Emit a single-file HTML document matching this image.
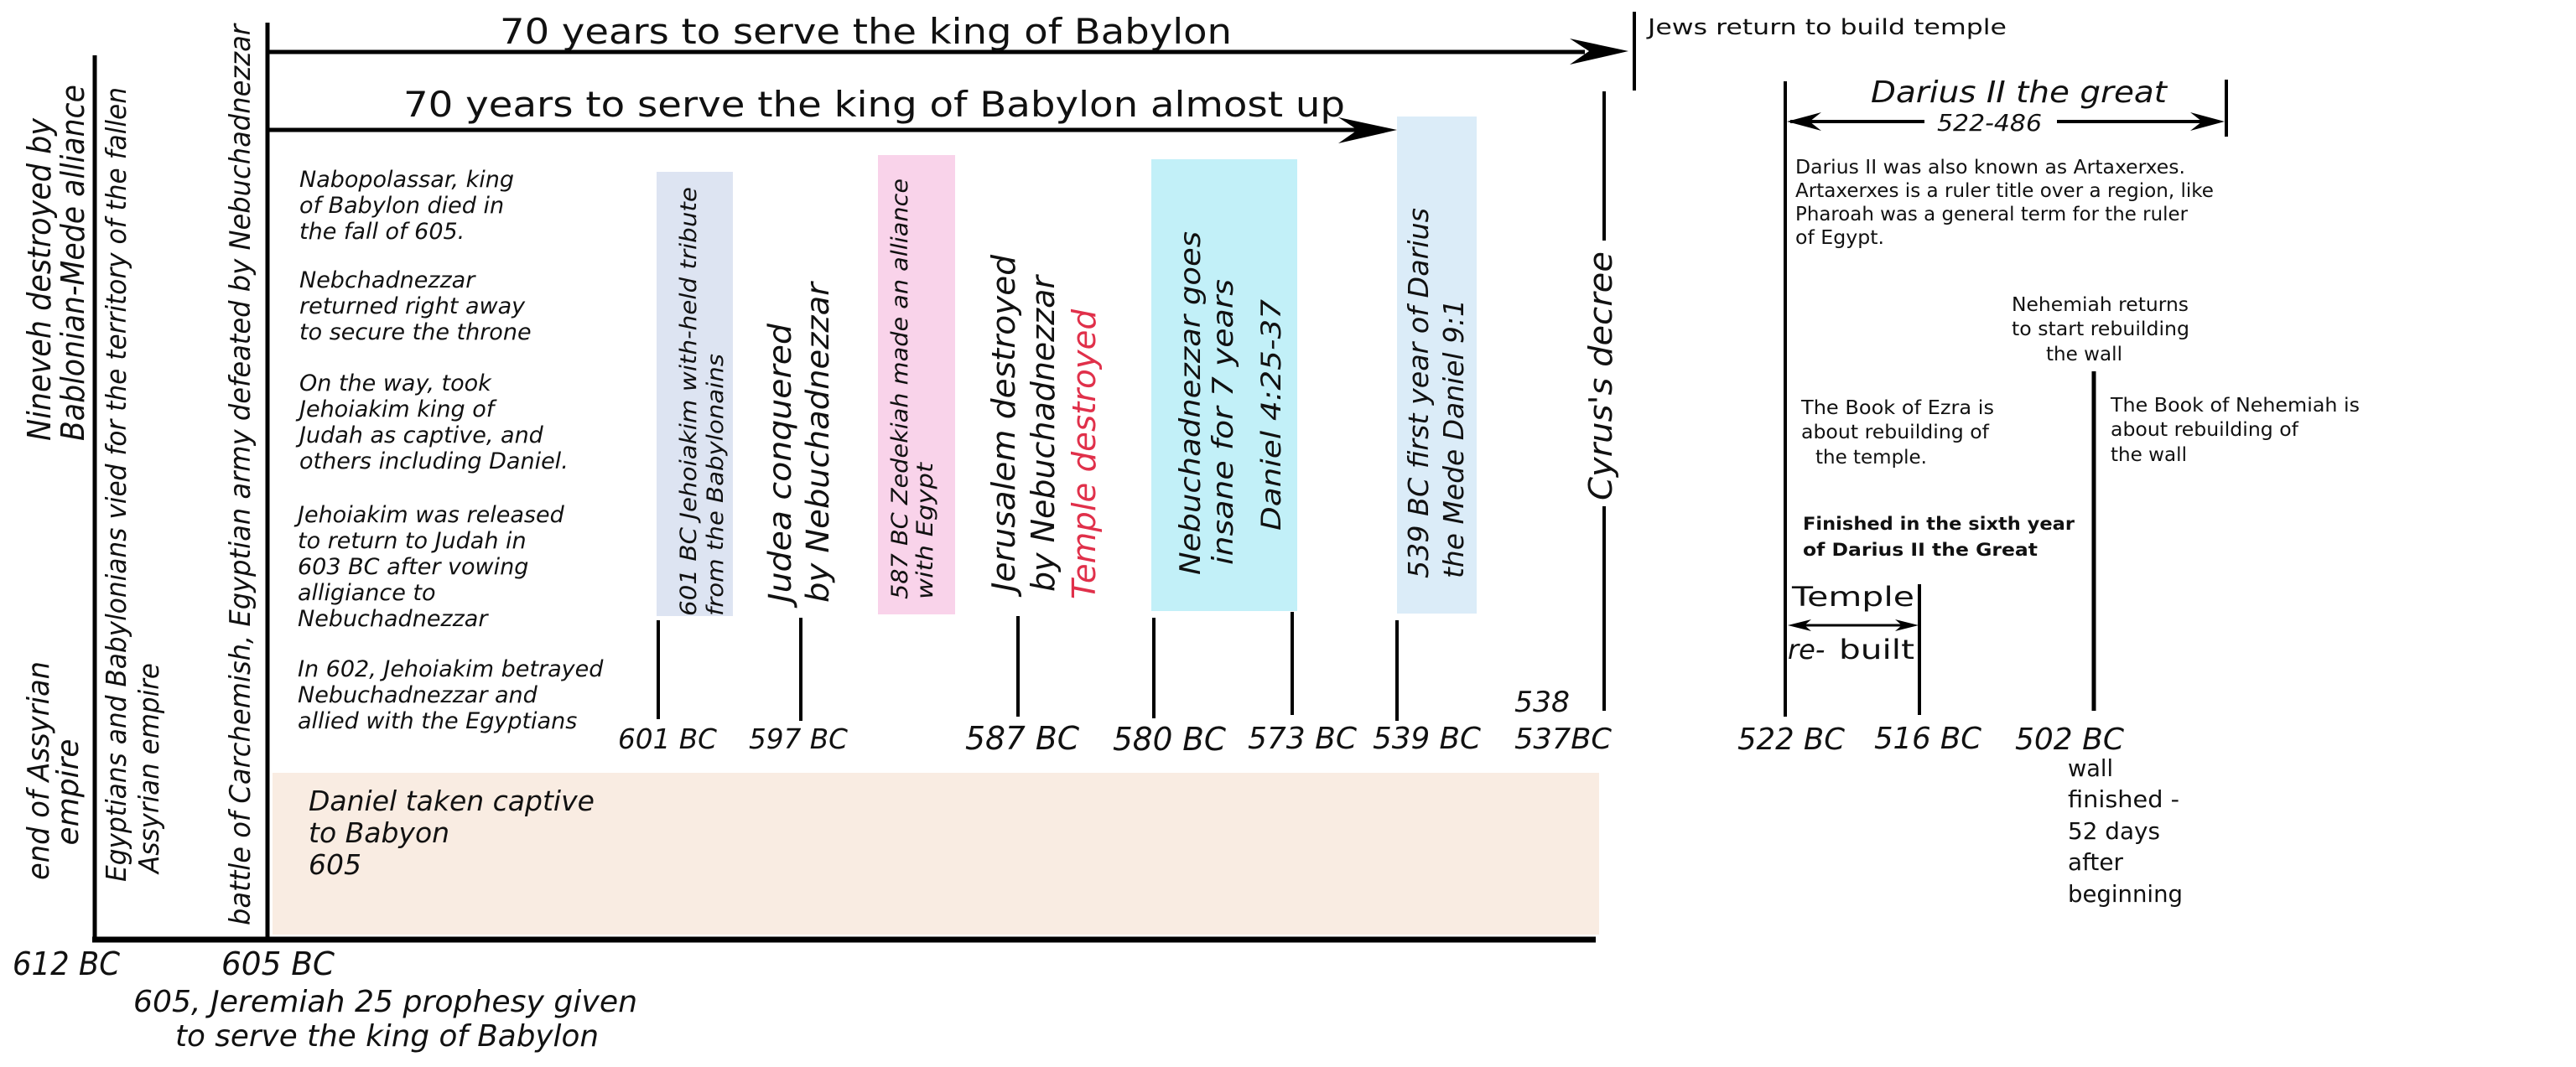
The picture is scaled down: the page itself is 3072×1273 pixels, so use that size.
<!DOCTYPE html>
<html><head><meta charset="utf-8"><style>
html,body{margin:0;padding:0;background:#fff;}
svg{display:block;}
text{font-family:"DejaVu Sans","Liberation Sans",sans-serif;fill:#111;}
.i{font-style:italic;}
.c{font-family:"DejaVu Sans Condensed","DejaVu Sans","Liberation Sans",sans-serif;font-style:italic;}
</style></head><body>
<svg width="3072" height="1273" viewBox="0 0 3072 1273" xmlns="http://www.w3.org/2000/svg">
<rect x="325" y="922" width="1582" height="193" fill="#f9ece2"/>
<rect x="783" y="205" width="91" height="530" fill="#dde4f2"/>
<rect x="1047" y="185" width="92" height="548" fill="#f9d3ea"/>
<rect x="1373" y="190" width="174" height="539" fill="#c2f0f8"/>
<rect x="1666" y="139" width="95" height="593" fill="#dbecf8"/>

<g stroke="#000" fill="none">
<line x1="113" y1="66" x2="113" y2="1120" stroke-width="5"/>
<line x1="319" y1="27" x2="319" y2="1120" stroke-width="5"/>
<line x1="110" y1="1121" x2="1903" y2="1121" stroke-width="7"/>
<line x1="319" y1="62" x2="1890" y2="62" stroke-width="5"/>
<line x1="319" y1="155" x2="1620" y2="155" stroke-width="5"/>
<line x1="1949" y1="14" x2="1949" y2="108" stroke-width="4"/>
<line x1="1913" y1="109" x2="1913" y2="287" stroke-width="4"/>
<line x1="1913" y1="604" x2="1913" y2="848" stroke-width="4"/>
<line x1="785" y1="740" x2="785" y2="858" stroke-width="4"/>
<line x1="955" y1="737" x2="955" y2="860" stroke-width="4"/>
<line x1="1214" y1="735" x2="1214" y2="855" stroke-width="4"/>
<line x1="1376" y1="737" x2="1376" y2="857" stroke-width="4"/>
<line x1="1541" y1="730" x2="1541" y2="853" stroke-width="4"/>
<line x1="1666" y1="740" x2="1666" y2="860" stroke-width="4"/>
<line x1="2129" y1="97" x2="2129" y2="855" stroke-width="4"/>
<line x1="2655" y1="95" x2="2655" y2="163" stroke-width="4"/>
<line x1="2289" y1="697" x2="2289" y2="853" stroke-width="4"/>
<line x1="2497" y1="443" x2="2497" y2="848" stroke-width="5"/>
<line x1="2135" y1="145" x2="2295" y2="145" stroke-width="4"/>
<line x1="2453" y1="145" x2="2645" y2="145" stroke-width="4"/>
<line x1="2140" y1="746" x2="2280" y2="746" stroke-width="3"/>
</g>
<g fill="#000">
<path d="M1942,61 L1872,46 L1895,61 L1872,77 Z"/>
<path d="M1666,155 L1596,140 L1619,155 L1596,171 Z"/>
<path d="M2131,145 L2172,134 L2158,145 L2172,156 Z"/>
<path d="M2653,145 L2612,134 L2626,145 L2612,156 Z"/>
<path d="M2132,746 L2160,739 L2152,746 L2160,753 Z"/>
<path d="M2288,746 L2260,739 L2268,746 L2260,753 Z"/>
</g>

<text x="596" y="52" font-size="42" textLength="873" lengthAdjust="spacingAndGlyphs">70 years to serve the king of Babylon</text>
<text x="481" y="139" font-size="42" textLength="1123" lengthAdjust="spacingAndGlyphs">70 years to serve the king of Babylon almost up</text>
<text x="1965" y="41" font-size="26" textLength="428" lengthAdjust="spacingAndGlyphs">Jews return to build temple</text>

<g class="i">
<text transform="translate(60,526) rotate(-90)" font-size="38" textLength="385" lengthAdjust="spacingAndGlyphs">Nineveh destroyed by</text>
<text transform="translate(100,526) rotate(-90)" font-size="38" textLength="425" lengthAdjust="spacingAndGlyphs">Bablonian-Mede alliance</text>
<text transform="translate(58,1050) rotate(-90)" font-size="36" textLength="261" lengthAdjust="spacingAndGlyphs">end of Assyrian</text>
<text transform="translate(93,945) rotate(-90)" font-size="36" text-anchor="middle">empire</text>
<text transform="translate(150,1052) rotate(-90)" font-size="33" textLength="948" lengthAdjust="spacingAndGlyphs">Egyptians and Babylonians vied for the territory of the fallen</text>
<text transform="translate(189,1042) rotate(-90)" font-size="33" textLength="251" lengthAdjust="spacingAndGlyphs">Assyrian empire</text>
<text transform="translate(298,1104) rotate(-90)" font-size="34" textLength="1075" lengthAdjust="spacingAndGlyphs">battle of Carchemish, Egyptian army defeated by Nebuchadnezzar</text>

<text transform="translate(830,735) rotate(-90)" font-size="27" textLength="512" lengthAdjust="spacingAndGlyphs">601 BC Jehoiakim with-held tribute</text>
<text transform="translate(862,735) rotate(-90)" font-size="27" textLength="313" lengthAdjust="spacingAndGlyphs">from the Babylonains</text>
<text transform="translate(943,719) rotate(-90)" font-size="37" textLength="333" lengthAdjust="spacingAndGlyphs">Judea conquered</text>
<text transform="translate(988,719) rotate(-90)" font-size="37" textLength="382" lengthAdjust="spacingAndGlyphs">by Nebuchadnezzar</text>
<text transform="translate(1082,715) rotate(-90)" font-size="27" textLength="502" lengthAdjust="spacingAndGlyphs">587 BC Zedekiah made an alliance</text>
<text transform="translate(1112,715) rotate(-90)" font-size="27" textLength="163" lengthAdjust="spacingAndGlyphs">with  Egypt</text>
<text transform="translate(1210,706) rotate(-90)" font-size="38" textLength="402" lengthAdjust="spacingAndGlyphs">Jerusalem destroyed</text>
<text transform="translate(1257,706) rotate(-90)" font-size="38" textLength="377" lengthAdjust="spacingAndGlyphs">by Nebuchadnezzar</text>
<text transform="translate(1306,715) rotate(-90)" font-size="38" textLength="346" lengthAdjust="spacingAndGlyphs" style="fill:#e0304a">Temple destroyed</text>
<text transform="translate(1431,686) rotate(-90)" font-size="34" textLength="410" lengthAdjust="spacingAndGlyphs">Nebuchadnezzar goes</text>
<text transform="translate(1470,674) rotate(-90)" font-size="34" textLength="341" lengthAdjust="spacingAndGlyphs">insane for 7 years</text>
<text transform="translate(1527,633) rotate(-90)" font-size="32" textLength="276" lengthAdjust="spacingAndGlyphs">Daniel 4:25-37</text>
<text transform="translate(1703,690) rotate(-90)" font-size="33" textLength="442" lengthAdjust="spacingAndGlyphs">539 BC first year of Darius</text>
<text transform="translate(1745,690) rotate(-90)" font-size="33" textLength="333" lengthAdjust="spacingAndGlyphs">the Mede Daniel 9:1</text>
<text transform="translate(1922,597) rotate(-90)" font-size="38" textLength="297" lengthAdjust="spacingAndGlyphs">Cyrus's decree</text>
</g>

<g class="c" font-size="27">
<text x="357" y="223">Nabopolassar, king</text>
<text x="357" y="254">of Babylon died in</text>
<text x="357" y="285">the fall of 605.</text>
<text x="357" y="343">Nebchadnezzar</text>
<text x="357" y="374">returned right away</text>
<text x="357" y="405">to secure the throne</text>
<text x="357" y="466">On the way, took</text>
<text x="357" y="497">Jehoiakim king of</text>
<text x="357" y="528">Judah as captive, and</text>
<text x="357" y="559">others including Daniel.</text>
<text x="355" y="623">Jehoiakim was released</text>
<text x="355" y="654">to return to Judah in</text>
<text x="355" y="685">603 BC after vowing</text>
<text x="355" y="716">alligiance to</text>
<text x="355" y="747">Nebuchadnezzar</text>
<text x="355" y="807">In 602, Jehoiakim betrayed</text>
<text x="355" y="838">Nebuchadnezzar and</text>
<text x="355" y="869">allied with the Egyptians</text>
</g>
<g class="c" font-size="33">
<text x="368" y="967">Daniel taken captive</text>
<text x="368" y="1005">to Babyon</text>
<text x="368" y="1043">605</text>
</g>
<g class="c" font-size="38">
<text x="15" y="1163" textLength="128" lengthAdjust="spacingAndGlyphs">612 BC</text>
<text x="264" y="1163" textLength="135" lengthAdjust="spacingAndGlyphs">605 BC</text>
</g>
<g class="c" font-size="36">
<text x="159" y="1207" textLength="601" lengthAdjust="spacingAndGlyphs">605, Jeremiah 25 prophesy given</text>
<text x="209" y="1248" textLength="505" lengthAdjust="spacingAndGlyphs">to serve the king of Babylon</text>
</g>

<g class="i">
<text x="737" y="893" font-size="33" textLength="118" lengthAdjust="spacingAndGlyphs">601 BC</text>
<text x="893" y="893" font-size="33" textLength="118" lengthAdjust="spacingAndGlyphs">597 BC</text>
<text x="1151" y="894" font-size="38" textLength="136" lengthAdjust="spacingAndGlyphs">587 BC</text>
<text x="1327" y="895" font-size="38" textLength="135" lengthAdjust="spacingAndGlyphs">580 BC</text>
<text x="1488" y="893" font-size="36" textLength="130" lengthAdjust="spacingAndGlyphs">573 BC</text>
<text x="1637" y="893" font-size="36" textLength="129" lengthAdjust="spacingAndGlyphs">539 BC</text>
<text x="1806" y="849" font-size="34" textLength="66" lengthAdjust="spacingAndGlyphs">538</text>
<text x="1806" y="893" font-size="34" textLength="116" lengthAdjust="spacingAndGlyphs">537BC</text>
<text x="2072" y="894" font-size="36" textLength="128" lengthAdjust="spacingAndGlyphs">522 BC</text>
<text x="2235" y="893" font-size="36" textLength="128" lengthAdjust="spacingAndGlyphs">516 BC</text>
<text x="2403" y="894" font-size="36" textLength="130" lengthAdjust="spacingAndGlyphs">502 BC</text>
<text x="2231" y="122" font-size="36" textLength="353" lengthAdjust="spacingAndGlyphs">Darius II the great</text>
<text x="2310" y="156" font-size="28" textLength="125" lengthAdjust="spacingAndGlyphs">522-486</text>
</g>

<g font-size="23">
<text x="2141" y="207" textLength="465" lengthAdjust="spacingAndGlyphs">Darius II was also known as Artaxerxes.</text>
<text x="2141" y="235" textLength="499" lengthAdjust="spacingAndGlyphs">Artaxerxes is a ruler title over a region, like</text>
<text x="2141" y="263" textLength="468" lengthAdjust="spacingAndGlyphs">Pharoah was a general term for the ruler</text>
<text x="2141" y="291" textLength="106" lengthAdjust="spacingAndGlyphs">of Egypt.</text>
<text x="2399" y="371" textLength="211" lengthAdjust="spacingAndGlyphs">Nehemiah returns</text>
<text x="2399" y="400" textLength="212" lengthAdjust="spacingAndGlyphs">to start rebuilding</text>
<text x="2440" y="430" textLength="91" lengthAdjust="spacingAndGlyphs">the wall</text>
<text x="2148" y="494" textLength="230" lengthAdjust="spacingAndGlyphs">The Book of Ezra is</text>
<text x="2148" y="523" textLength="224" lengthAdjust="spacingAndGlyphs">about rebuilding of</text>
<text x="2165" y="553" textLength="133" lengthAdjust="spacingAndGlyphs">the temple.</text>
<text x="2517" y="491" textLength="297" lengthAdjust="spacingAndGlyphs">The Book of Nehemiah is</text>
<text x="2517" y="520" textLength="224" lengthAdjust="spacingAndGlyphs">about rebuilding of</text>
<text x="2517" y="550" textLength="91" lengthAdjust="spacingAndGlyphs">the wall</text>
</g>
<g font-size="21" font-weight="bold">
<text x="2150" y="632" textLength="324" lengthAdjust="spacingAndGlyphs">Finished in the sixth year</text>
<text x="2150" y="663" textLength="280" lengthAdjust="spacingAndGlyphs">of Darius II the Great</text>
</g>
<text x="2137" y="723" font-size="32" textLength="146" lengthAdjust="spacingAndGlyphs">Temple</text>
<text x="2132" y="786" font-size="32" class="i">re-</text>
<text x="2193" y="786" font-size="32" textLength="90" lengthAdjust="spacingAndGlyphs">built</text>
<g font-size="28">
<text x="2466" y="926" textLength="54" lengthAdjust="spacingAndGlyphs">wall</text>
<text x="2466" y="963" textLength="133" lengthAdjust="spacingAndGlyphs">finished -</text>
<text x="2466" y="1001" textLength="110" lengthAdjust="spacingAndGlyphs">52 days</text>
<text x="2466" y="1038" textLength="66" lengthAdjust="spacingAndGlyphs">after</text>
<text x="2466" y="1076" textLength="137" lengthAdjust="spacingAndGlyphs">beginning</text>
</g>
</svg>
</body></html>
